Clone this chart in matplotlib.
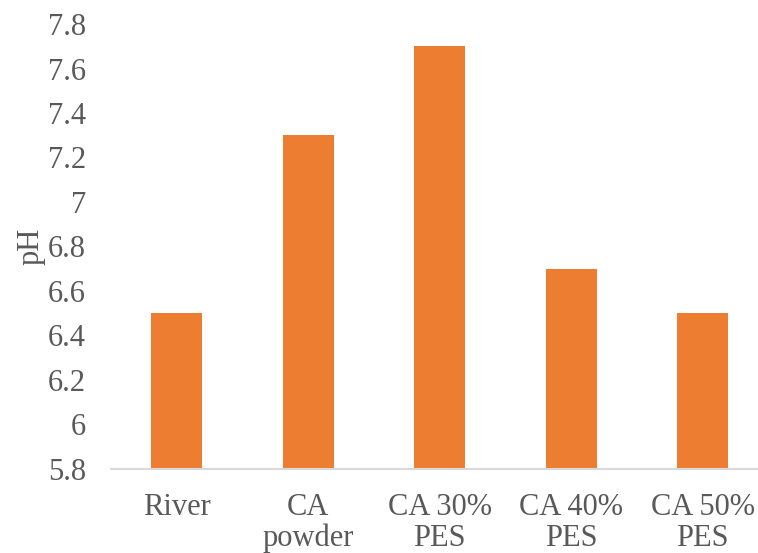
import matplotlib.pyplot as plt

plt.rcParams['font.family'] = ['Liberation Serif', 'DejaVu Serif']

categories = ['River', 'CA\npowder', 'CA 30%\nPES', 'CA 40%\nPES', 'CA 50%\nPES']
ph_values = [6.5, 7.3, 7.7, 6.7, 6.5]
yticks = [5.8, 6.0, 6.2, 6.4, 6.6, 6.8, 7.0, 7.2, 7.4, 7.6, 7.8]
ytick_labels = ['5.8', '6', '6.2', '6.4', '6.6', '6.8', '7', '7.2', '7.4', '7.6', '7.8']

fig = plt.figure(figsize=(7.58, 5.53), dpi=100)
ax = fig.add_axes([0.1464, 0.1519, 0.8536, 0.8047])

x = range(len(categories))
ax.bar(x, [v - 5.8 for v in ph_values], bottom=5.8, width=0.39, color='#ED7D31')

ax.set_xlim(-0.5, 4.42)
ax.set_ylim(5.8, 7.8)
ax.set_yticks(yticks)
ax.set_yticklabels(ytick_labels)
ax.set_xticks(list(x))
ax.set_xticklabels(categories, linespacing=1.1)

for s in ['top', 'right', 'left']:
    ax.spines[s].set_visible(False)
ax.spines['bottom'].set_color('#D9D9D9')
ax.spines['bottom'].set_linewidth(1.5)
ax.tick_params(axis='both', length=0, labelsize=22, colors='#595959')
ax.tick_params(axis='y', pad=18)
ax.tick_params(axis='x', pad=17)

ax.set_ylabel('pH', fontsize=22, color='#595959', labelpad=2)

fig.savefig('out.png', dpi=100)
